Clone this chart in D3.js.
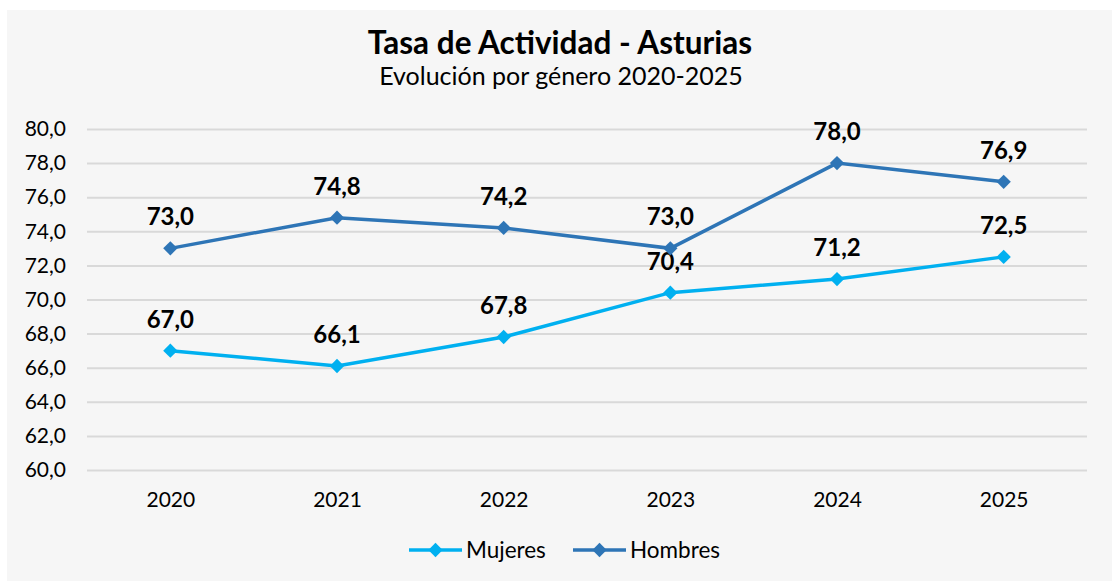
<!DOCTYPE html>
<html>
<head>
<meta charset="utf-8">
<script src="https://cdn.jsdelivr.net/npm/d3@7"></script>
<style>
  body { margin: 0; background: #fff; }
  text { font-family: Lato, "Open Sans", sans-serif; }
</style>
</head>
<body>
<svg width="1112" height="583"></svg>
<script>
var years = ["2020", "2021", "2022", "2023", "2024", "2025"];
var mujeres = [67.0, 66.1, 67.8, 70.4, 71.2, 72.5];
var hombres = [73.0, 74.8, 74.2, 73.0, 78.0, 76.9];
var yTicks = [60, 62, 64, 66, 68, 70, 72, 74, 76, 78, 80];

var series = [
  { name: "Mujeres", values: mujeres, color: "#00b0f0" },
  { name: "Hombres", values: hombres, color: "#2e75b6" }
];

var svg = d3.select("svg"),
  width = +svg.attr("width"),
  height = +svg.attr("height");

// panel background
svg.append("rect")
  .attr("x", 7).attr("y", 10)
  .attr("width", width - 7).attr("height", 571)
  .attr("fill", "#f6f6f6");

var plotL = 87, plotR = 1087, plotT = 129, plotB = 470;

var x = d3.scalePoint().domain(years).range([plotL, plotR]).padding(0.5);
var y = d3.scaleLinear().domain([60, 80]).range([plotB, plotT]);

var fmt = function(v) { return d3.format(".1f")(v).replace(".", ","); };

// titles
svg.append("text")
  .attr("x", 560).attr("y", 54)
  .attr("text-anchor", "middle")
  .style("font-size", "31.5px").style("font-weight", "bold")
  .text("Tasa de Actividad - Asturias");
svg.append("text")
  .attr("x", 561).attr("y", 85)
  .attr("text-anchor", "middle")
  .style("font-size", "25px")
  .text("Evolución por género 2020-2025");

// grid + y axis
var yAxis = svg.append("g")
  .attr("transform", "translate(" + plotL + ",0)")
  .call(d3.axisLeft(y).tickValues(yTicks).tickSize(-(plotR - plotL)).tickPadding(21).tickFormat(fmt));
yAxis.select(".domain").remove();
yAxis.selectAll(".tick line").attr("stroke", "#d9d9d9").attr("stroke-width", 2);
yAxis.selectAll(".tick text")
  .style("font-size", "21px").style("font-family", "Lato, 'Open Sans', sans-serif")
  .attr("fill", "#000");

// x axis
var xAxis = svg.append("g")
  .attr("transform", "translate(0," + plotB + ")")
  .call(d3.axisBottom(x).tickSize(0).tickPadding(22));
xAxis.select(".domain").remove();
xAxis.selectAll(".tick text")
  .style("font-size", "21px").style("font-family", "Lato, 'Open Sans', sans-serif")
  .attr("fill", "#000");

var line = d3.line()
  .x(function(d, i) { return x(years[i]); })
  .y(function(d) { return y(d); });

var diamond = d3.symbol().type(d3.symbolDiamond2).size(130);

series.forEach(function(s) {
  var g = svg.append("g");
  g.append("path")
    .datum(s.values)
    .attr("d", line)
    .attr("fill", "none")
    .attr("stroke", s.color)
    .attr("stroke-width", 3.5);
  g.selectAll("path.pt")
    .data(s.values)
    .enter().append("path")
    .attr("class", "pt")
    .attr("d", diamond)
    .attr("transform", function(d, i) { return "translate(" + x(years[i]) + "," + y(d) + ")"; })
    .attr("fill", s.color);
  g.selectAll("text")
    .data(s.values)
    .enter().append("text")
    .attr("x", function(d, i) { return x(years[i]); })
    .attr("y", function(d) { return y(d) - 23; })
    .attr("text-anchor", "middle")
    .style("font-size", "24px").style("font-weight", "bold")
    .text(fmt);
});

// legend
var legend = svg.selectAll(".legend")
  .data(series)
  .enter().append("g")
  .attr("class", "legend")
  .attr("transform", function(d, i) { return "translate(" + (409 + i * 164) + ",550)"; });
legend.append("line")
  .attr("x1", 0).attr("x2", 53)
  .attr("stroke", function(d) { return d.color; })
  .attr("stroke-width", 3.5);
legend.append("path")
  .attr("d", diamond)
  .attr("transform", "translate(26.5,0)")
  .attr("fill", function(d) { return d.color; });
legend.append("text")
  .attr("x", 57).attr("y", 8)
  .style("font-size", "22.5px")
  .text(function(d) { return d.name; });
</script>
</body>
</html>
